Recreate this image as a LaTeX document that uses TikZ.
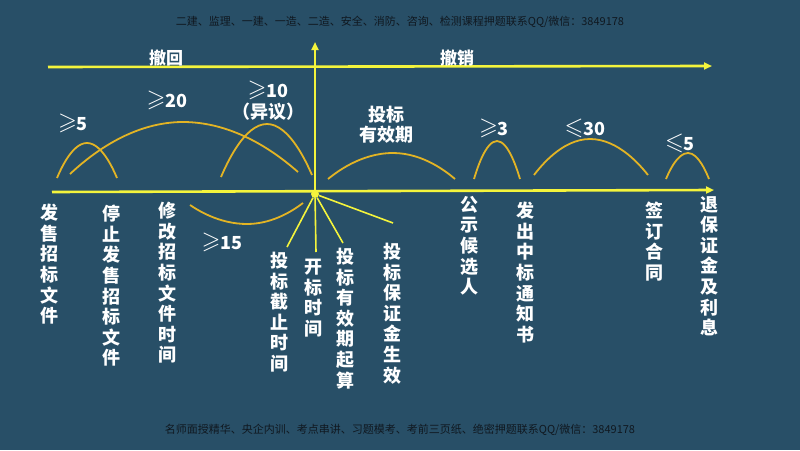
\documentclass[tikz,border=0pt]{standalone}
\usepackage{fontspec}
\usepackage{amssymb}
\setmainfont{Noto Sans CJK SC}
\usetikzlibrary{arrows.meta}
\definecolor{bg}{HTML}{284F67}
\definecolor{axisc}{HTML}{F4F43C}
\definecolor{arcc}{HTML}{E3B424}
\definecolor{hdr}{HTML}{101820}
\newcommand\mygeq{\raisebox{0.08em}{\scalebox{1.35}{$\geqslant$}}}
\newcommand\myleq{\raisebox{0.08em}{\scalebox{1.35}{$\leqslant$}}}
\begin{document}
\begin{tikzpicture}[x=1pt,y=-1pt,
  axisline/.style={draw=axisc,line width=2.6pt},
  arcline/.style={draw=arcc,line width=1.8pt},
  ray/.style={draw=axisc,line width=1.6pt},
  tip/.style={-{Triangle[length=8pt,width=7pt]}},
  vlabel/.style={text=white,font=\bfseries\fontsize{18}{20.6}\selectfont,align=center,inner sep=0pt,anchor=north},
  numlabel/.style={text=white,font=\bfseries\fontsize{18}{21}\selectfont,align=center,inner sep=0pt},
  toplabel/.style={text=white,font=\bfseries\fontsize{17}{20}\selectfont,inner sep=0pt},
  hdrtext/.style={text=hdr,font=\fontsize{11}{12}\selectfont,inner sep=0pt}]
\fill[bg] (0,0) rectangle (800,450);
\useasboundingbox (0,0) rectangle (800,450);

% header / footer
\node[hdrtext] (hdr) at (400,22) {二建、监理、一建、一造、二造、安全、消防、咨询、检测课程押题联系QQ/微信：3849178};
\node[hdrtext] (ftr) at (400,430) {名师面授精华、央企内训、考点串讲、习题模考、考前三页纸、绝密押题联系QQ/微信：3849178};

% axes
\coordinate (tl) at (48,67);
\coordinate (tr) at (712,66);
\draw[axisline,tip] (tl) -- (tr);
\coordinate (bl) at (52,192);
\coordinate (br) at (714,190);
\draw[axisline,tip] (bl) -- (br);
\coordinate (vb) at (315,196);
\coordinate (vt) at (315,42);
\draw[draw=axisc,line width=2pt,tip] (vb) -- (vt);

\node[toplabel] (chehui) at (166,58) {撤回};
\node[toplabel] (chexiao) at (457,58) {撤销};

% centre burst and rays
\node[circle,fill=axisc,minimum size=8pt,inner sep=0pt] (c) at (315,194) {};
\coordinate (r1) at (287,247);
\coordinate (r2) at (316,252);
\coordinate (r3) at (343,243);
\coordinate (r4) at (393,223);
\draw[ray] (c) -- (r1);
\draw[ray] (c) -- (r2);
\draw[ray] (c) -- (r3);
\draw[ray] (c) -- (r4);

% arcs
\coordinate (a1s) at (57,178);  \coordinate (a1p) at (87,143);  \coordinate (a1e) at (117,178);
\coordinate (a2s) at (70,174);  \coordinate (a2p) at (183,122); \coordinate (a2e) at (298,172);
\coordinate (a3s) at (221,177); \coordinate (a3p) at (267,124); \coordinate (a3e) at (312,175);
\coordinate (a4s) at (190,205); \coordinate (a4p) at (247,224); \coordinate (a4e) at (303,203);
\coordinate (a5s) at (328,179); \coordinate (a5p) at (393,153); \coordinate (a5e) at (455,179);
\coordinate (a6s) at (474,179); \coordinate (a6p) at (497,141); \coordinate (a6e) at (520,179);
\coordinate (a7s) at (534,175); \coordinate (a7p) at (590,139); \coordinate (a7e) at (648,175);
\coordinate (a8s) at (666,179); \coordinate (a8p) at (688,153); \coordinate (a8e) at (709,179);
\draw[arcline] (a1s) parabola bend (a1p) (a1e);
\draw[arcline] (a2s) parabola bend (a2p) (a2e);
\draw[arcline] (a3s) parabola bend (a3p) (a3e);
\draw[arcline] (a4s) parabola bend (a4p) (a4e);
\draw[arcline] (a5s) parabola bend (a5p) (a5e);
\draw[arcline] (a6s) parabola bend (a6p) (a6e);
\draw[arcline] (a7s) parabola bend (a7p) (a7e);
\draw[arcline] (a8s) parabola bend (a8p) (a8e);

% arc labels
\node[numlabel] (n5) at (73,123) {\mygeq5};
\node[numlabel] (n20) at (167,100) {\mygeq20};
\node[numlabel] (n10) at (268,90) {\mygeq10};
\node[numlabel] (ny) at (268,112) {（异议）};
\node[numlabel] (n15) at (222,242) {\mygeq15};
\node[numlabel] (nyx) at (386,125) {投标\\[-1pt]有效期};
\node[numlabel] (n3) at (494,128) {\mygeq3};
\node[numlabel] (n30) at (585,128) {\myleq30};
\node[numlabel] (n5b) at (680,143) {\myleq5};

% vertical labels
\node[vlabel] (v1) at (49,204) {发\\售\\招\\标\\文\\件};
\node[vlabel] (v2) at (111,205) {停\\止\\发\\售\\招\\标\\文\\件};
\node[vlabel] (v3) at (167,202) {修\\改\\招\\标\\文\\件\\时\\间};
\node[vlabel] (v4) at (279,252) {投\\标\\截\\止\\时\\间};
\node[vlabel] (v5) at (313,259) {开\\标\\时\\间};
\node[vlabel] (v6) at (345,248) {投\\标\\有\\效\\期\\起\\算};
\node[vlabel] (v7) at (392,243) {投\\标\\保\\证\\金\\生\\效};
\node[vlabel] (v8) at (469,196) {公\\示\\候\\选\\人};
\node[vlabel] (v9) at (525,202) {发\\出\\中\\标\\通\\知\\书};
\node[vlabel] (v10) at (654,202) {签\\订\\合\\同};
\node[vlabel] (v11) at (709,196) {退\\保\\证\\金\\及\\利\\息};
\end{tikzpicture}
\end{document}
